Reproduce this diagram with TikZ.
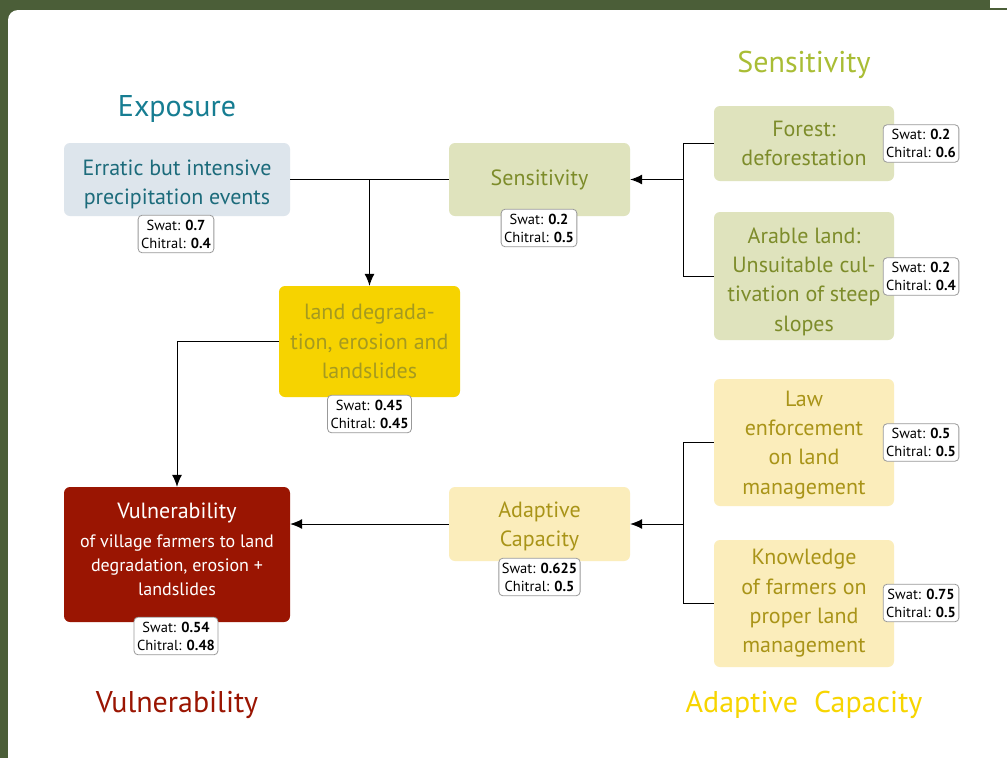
\documentclass[tikz,border=0pt]{standalone}
\usepackage{fontspec}
\setmainfont{PT Sans}
\usetikzlibrary{arrows.meta}
\definecolor{bggreen}{HTML}{4B5E38}
\definecolor{expT}{HTML}{167D92}
\definecolor{expTxt}{HTML}{1C6B7B}
\definecolor{expFill}{HTML}{DDE5EC}
\definecolor{senT}{HTML}{A9BD35}
\definecolor{senTxt}{HTML}{7D8C2A}
\definecolor{senFill}{HTML}{DFE3BD}
\definecolor{ldFill}{HTML}{F6D300}
\definecolor{ldTxt}{HTML}{A59A20}
\definecolor{acFill}{HTML}{FBEDBB}
\definecolor{acTxt}{HTML}{A99418}
\definecolor{acT}{HTML}{F7D500}
\definecolor{vulRed}{HTML}{9A1502}
\newcommand{\tpad}[1]{\rule{0pt}{#1}}
\newcommand{\bpad}[1]{\rule[-#1]{0pt}{1pt}}
\begin{document}
\begin{tikzpicture}[x=1pt,y=-1pt,
  box/.style={rounded corners=6pt, inner sep=0pt, align=center, font=\fontsize{22}{29.3}\selectfont},
  score/.style={draw=black!40, fill=white, rounded corners=4pt, align=center, inner xsep=3pt, inner ysep=4.5pt, font=\fontsize{14.5}{18}\selectfont, line width=0.8pt},
  title/.style={font=\fontsize{30}{36}\selectfont, inner sep=0pt},
  conn/.style={line width=1pt},
  arr/.style={conn,-{Latex[length=12pt,width=10pt]}}]
\useasboundingbox (0,0) rectangle (1007,758);
\fill[bggreen] (0,0) rectangle (1007,758);
\fill[white, rounded corners=10pt] (8,10) rectangle (1040,790);
\fill[white] (990,0) rectangle (1007,8);

% titles
\node[title, text=expT] (tExp) at (177,109) {Exposure};
\node[title, text=senT] (tSen) at (804,65) {Sensitivity};
\node[title, text=vulRed] (tVul) at (177,705) {Vulnerability};
\node[title, text=acT] (tAC) at (804,705) {Adaptive\ \ Capacity};

% main boxes
\node[box, fill=expFill, text=expTxt, minimum width=226pt, minimum height=73pt] (err) at (177,179.5) {\tpad{26pt}Erratic but intensive\\precipitation events};
\node[box, fill=senFill, text=senTxt, minimum width=181pt, minimum height=73pt] (sens) at (539.5,179.5) {Sensitivity};
\node[box, fill=senFill, text=senTxt, minimum width=180pt, minimum height=75pt] (forest) at (804,143.5) {Forest:\\deforestation};
\node[box, fill=senFill, text=senTxt, minimum width=180pt, minimum height=128pt] (arable) at (804,276) {\tpad{27pt}Arable land:\\Unsuitable cul-\\tivation of steep\\slopes};
\node[box, fill=ldFill, text=ldTxt, minimum width=181pt, minimum height=111pt] (land) at (369.5,341.5) {land degrada-\\tion, erosion and\\landslides};
\node[box, fill=vulRed, text=white, minimum width=226pt, minimum height=135pt, font=\fontsize{18}{24}\selectfont] (vuln) at (177,554.5) {{\fontsize{22}{24}\selectfont Vulnerability}\\[5pt]of village farmers to land\\degradation, erosion +\\landslides\bpad{11pt}};
\node[box, fill=acFill, text=acTxt, minimum width=181pt, minimum height=74pt] (ac) at (539.5,524) {\tpad{20pt}Adaptive\\Capacity};
\node[box, fill=acFill, text=acTxt, minimum width=180pt, minimum height=127pt] (law) at (804,442.5) {\tpad{20pt}Law\\enforcement\\on land\\management};
\node[box, fill=acFill, text=acTxt, minimum width=180pt, minimum height=127pt] (know) at (804,603.5) {Knowledge\\of farmers on\\proper land\\management};

% score boxes
\node[score] (s1) at (176,234) {Swat: \textbf{0.7}\\Chitral: \textbf{0.4}};
\node[score] (s2) at (539,228) {Swat: \textbf{0.2}\\Chitral: \textbf{0.5}};
\node[score] (s3) at (921,143.5) {Swat: \textbf{0.2}\\Chitral: \textbf{0.6}};
\node[score] (s4) at (921,276.5) {Swat: \textbf{0.2}\\Chitral: \textbf{0.4}};
\node[score] (s5) at (369.5,414) {Swat: \textbf{0.45}\\Chitral: \textbf{0.45}};
\node[score] (s6) at (176,636) {Swat: \textbf{0.54}\\Chitral: \textbf{0.48}};
\node[score] (s7) at (539.5,577) {Swat: \textbf{0.625}\\Chitral: \textbf{0.5}};
\node[score] (s8) at (921,442.5) {Swat: \textbf{0.5}\\Chitral: \textbf{0.5}};
\node[score] (s9) at (921,603) {Swat: \textbf{0.75}\\Chitral: \textbf{0.5}};

% connectors
\coordinate (b1) at (683,0);
\coordinate (b2) at (683,0);
\draw[conn] (err.east) -- (sens.west);
\draw[arr] (land.north |- err.east) -- (land.north);
\draw[conn] (forest.west) -- (forest.west -| b1) -- (arable.west -| b1) -- (arable.west);
\draw[arr] (sens.east -| b1) -- (sens.east);
\draw[arr] (land.west) -| (vuln.north);
\draw[arr] (ac.west) -- (ac.west -| vuln.east);
\draw[conn] (law.west) -- (law.west -| b2) -- (know.west -| b2) -- (know.west);
\draw[arr] (ac.east -| b2) -- (ac.east);
\end{tikzpicture}
\end{document}
